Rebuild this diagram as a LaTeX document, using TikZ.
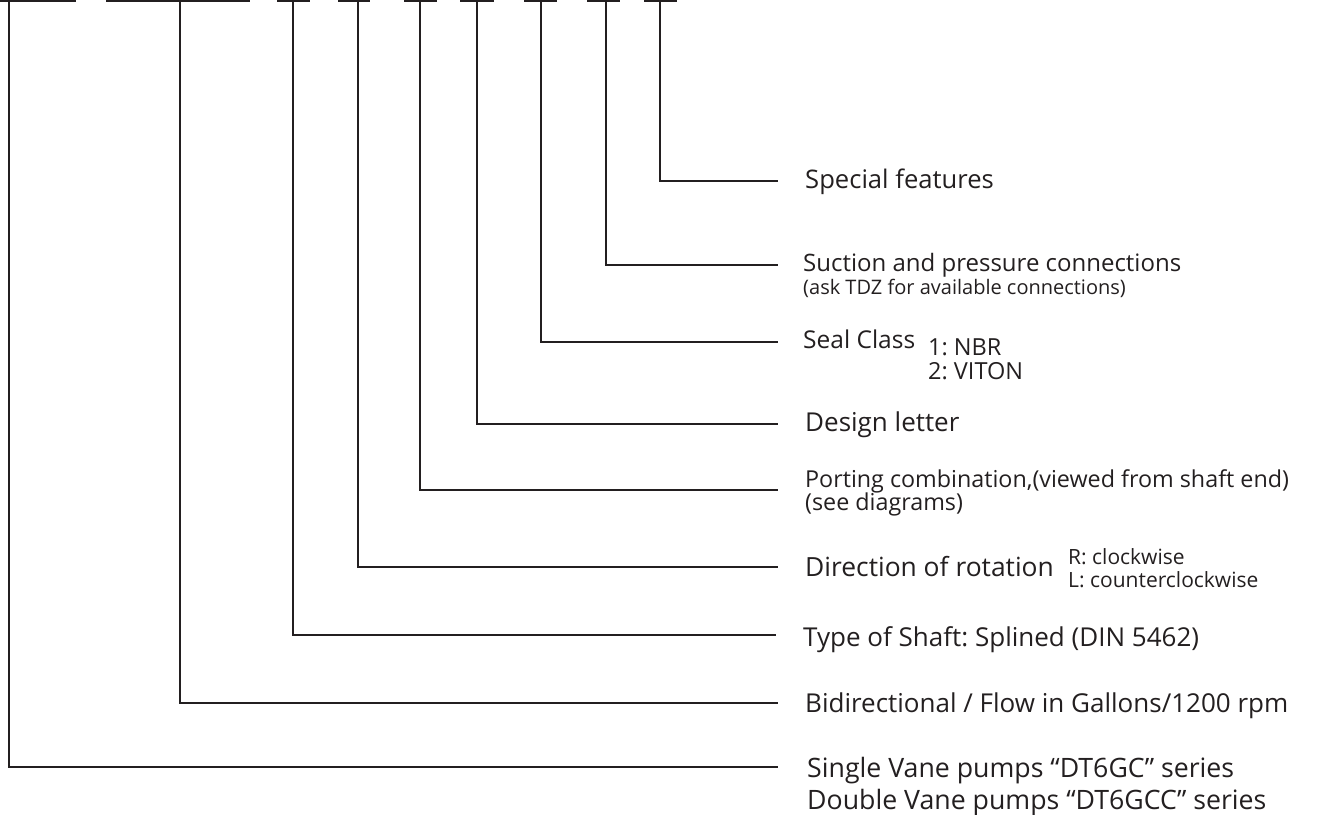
\documentclass[tikz,border=0pt]{standalone}
\usepackage{fontspec}
\setmainfont{Open Sans}
\frenchspacing
\definecolor{ink}{HTML}{231F20}
\newcommand{\fs}[1]{\fontsize{#1}{#1}\selectfont}
\begin{document}
\begin{tikzpicture}[x=1pt,y=-1pt,
  lead/.style={draw=ink,line width=2pt},
  lbl/.style={anchor=base west,inner sep=0pt,text=ink}]
\useasboundingbox (0,0) rectangle (1322,814);
% top bars
\coordinate (b1l) at (0,1);   \coordinate (b1r) at (76,1);  \coordinate (t1) at (9,1);
\coordinate (b2l) at (106,1); \coordinate (b2r) at (250,1); \coordinate (t2) at (180,1);
\coordinate (b3l) at (277,1); \coordinate (b3r) at (310,1); \coordinate (t3) at (293,1);
\coordinate (b4l) at (338,1); \coordinate (b4r) at (370,1); \coordinate (t4) at (358,1);
\coordinate (b5l) at (404,1); \coordinate (b5r) at (437,1); \coordinate (t5) at (420,1);
\coordinate (b6l) at (460,1); \coordinate (b6r) at (494,1); \coordinate (t6) at (477,1);
\coordinate (b7l) at (524,1); \coordinate (b7r) at (557,1); \coordinate (t7) at (541,1);
\coordinate (b8l) at (587,1); \coordinate (b8r) at (620,1); \coordinate (t8) at (606,1);
\coordinate (b9l) at (644,1); \coordinate (b9r) at (677,1); \coordinate (t9) at (660,1);
\foreach \i in {1,...,9} { \draw[lead] (b\i l) -- (b\i r); }
% line ends
\coordinate (e9) at (778,181);
\coordinate (e8) at (778,265);
\coordinate (e7) at (778,342);
\coordinate (e6) at (778,424);
\coordinate (e5) at (778,490);
\coordinate (e4) at (778,567);
\coordinate (e3) at (776,635);
\coordinate (e2) at (778,703);
\coordinate (e1) at (778,767);
\foreach \i in {1,...,9} { \draw[lead] (t\i) |- (e\i); }
% labels
\node[lbl,font=\fs{25.6}] (l9) at (805,188) {Special features};
\node[lbl,font=\fs{24}] (l8) at (803,271) {Suction and pressure connections};
\node[lbl,font=\fs{20}] (l8b) at (803,294) {(ask TDZ for available connections)};
\node[lbl,font=\fs{24.5}] (l7) at (803,348) {Seal Class};
\node[lbl,font=\fs{23.5}] (l7b) at (928,355) {1: NBR};
\node[lbl,font=\fs{23.5}] (l7c) at (928,379) {2: VITON};
\node[lbl,font=\fs{26}] (l6) at (805,431) {Design letter};
\node[lbl,font=\fs{23.3}] (l5) at (805,487) {Porting combination,(viewed from shaft end)};
\node[lbl,font=\fs{23.3}] (l5b) at (805,510) {(see diagrams)};
\node[lbl,font=\fs{26.4}] (l4) at (805,576) {Direction of rotation};
\node[lbl,font=\fs{21}] (l4b) at (1068,564) {R: clockwise};
\node[lbl,font=\fs{21}] (l4c) at (1068,587) {L: counterclockwise};
\node[lbl,font=\fs{26}] (l3) at (803,646) {Type of Shaft: Splined (DIN 5462)};
\node[lbl,font=\fs{26}] (l2) at (805,712) {Bidirectional / Flow in Gallons/1200 rpm};
\node[lbl,font=\fs{26.7}] (l1) at (807,777) {Single Vane pumps “DT6GC” series};
\node[lbl,font=\fs{26.7}] (l1b) at (807,809) {Double Vane pumps “DT6GCC” series};
\end{tikzpicture}
\end{document}
